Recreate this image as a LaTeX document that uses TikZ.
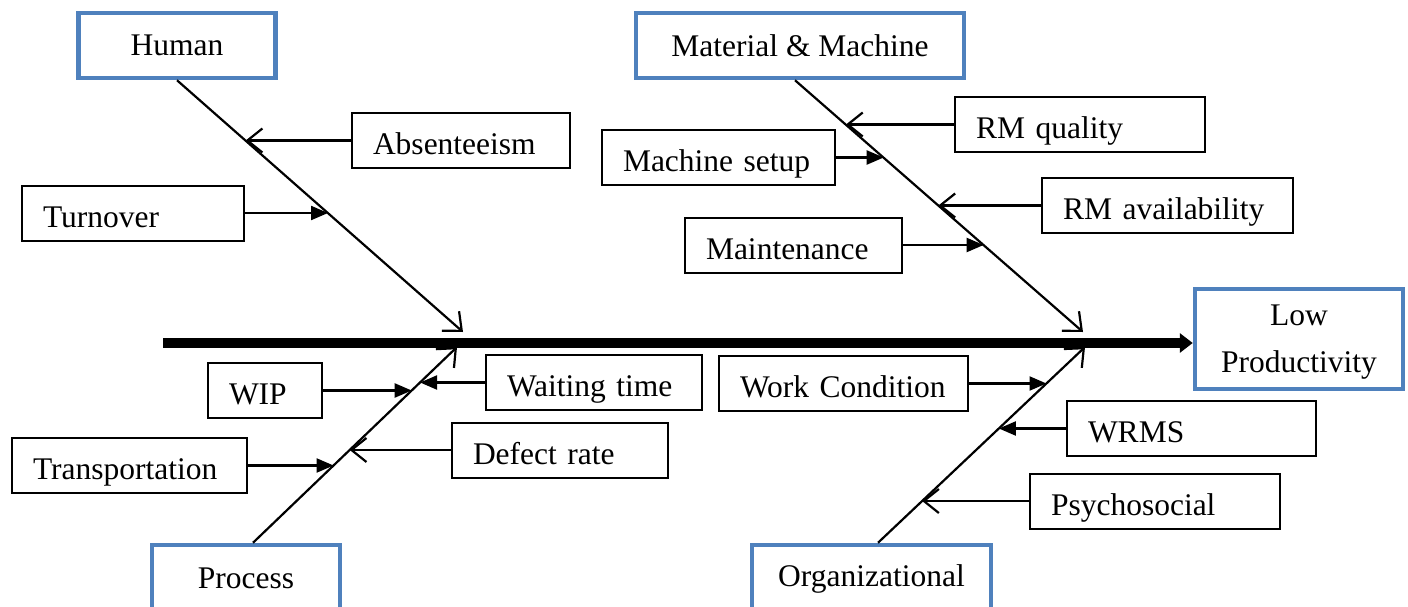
\documentclass[tikz,border=0pt]{standalone}
\usepackage{fontspec}
\setmainfont{Liberation Serif}
\usetikzlibrary{arrows.meta}
\definecolor{catblue}{RGB}{79,129,189}
\begin{document}
\begin{tikzpicture}[x=1pt,y=-1pt,
  every node/.style={font=\fontsize{31.5}{41}\selectfont, inner sep=0pt},
  category/.style={draw=catblue, line width=4.5pt, fill=white, align=center},
  cause/.style={draw=black, line width=2pt, minimum height=55pt, align=left,
                inner xsep=21pt, text width=#1, text height=28pt, text depth=0pt},
  bone/.style={line width=2.2pt, -{Straight Barb[length=15pt,width=26pt]}},
  inopen/.style={line width=2.2pt, -{Straight Barb[length=15pt,width=24pt]}},
  infill/.style={line width=2.2pt, -{Triangle[length=17pt,width=14pt]}},
  spine/.style={line width=10pt, -{Triangle[length=13pt,width=19pt]}}]

\useasboundingbox (0,0) rectangle (1408,607);

% category boxes and effect
\node[category, minimum width=197, minimum height=65] (human) at (177,45.5) {Human};
\node[category, minimum width=328, minimum height=65] (mm) at (800,45.5) {Material \& Machine};
\node[category, minimum width=208, minimum height=100, text depth=0pt] (lp) at (1299,339) {Low\\[6pt]Productivity};
\node[category, minimum width=188, minimum height=67] (proc) at (246,578.5) {Process};
\node[category, minimum width=239, minimum height=67] (org) at (871.5,578.5) {Organizational};

% ends of the bones and start of the spine
\coordinate (hEnd) at (463,332);
\coordinate (mEnd) at (1083,332);
\coordinate (pEnd) at (457,347);
\coordinate (oEnd) at (1085,347);
\coordinate (sStart) at (163,343);

% bones with the points where the causes join them
\draw[bone] (human.south) -- (hEnd)
  coordinate[pos=0.240] (h1) coordinate[pos=0.528] (h2);
\draw[bone] ([xshift=-5pt]mm.south) -- (mEnd)
  coordinate[pos=0.177] (m1) coordinate[pos=0.308] (m2)
  coordinate[pos=0.498] (m3) coordinate[pos=0.655] (m4);
\draw[bone] ([xshift=7pt]proc.north) -- (pEnd)
  coordinate[pos=0.778] (p1) coordinate[pos=0.819] (p2)
  coordinate[pos=0.395] (p3) coordinate[pos=0.474] (p4);
\draw[bone] ([xshift=6.5pt]org.north) -- (oEnd)
  coordinate[pos=0.814] (o1) coordinate[pos=0.584] (o2)
  coordinate[pos=0.213] (o3);

% spine
\draw[spine] (sStart) -- (sStart -| lp.west);

% causes
\node[cause=176] (absent) at (461,140.5) {Absenteeism};
\node[cause=180] (turn) at (133,213) {Turnover};
\node[cause=208] (rmq) at (1080,124.5) {RM quality};
\node[cause=191] (setup) at (718.5,157.5) {Machine setup};
\node[cause=209] (rma) at (1167.5,205.5) {RM availability};
\node[cause=175] (maint) at (793.5,245) {Maintenance};
\node[cause=72] (wip) at (265,390.5) {WIP};
\node[cause=174] (wait) at (594,382.5) {Waiting time};
\node[cause=193] (trans) at (129.5,465.5) {Transportation};
\node[cause=174] (defect) at (560,450) {Defect rate};
\node[cause=207] (work) at (843.5,383.5) {Work Condition};
\node[cause=207] (wrms) at (1191.5,428.5) {WRMS};
\node[cause=208] (psy) at (1155,501) {Psychosocial};

% cause arrows
\draw[inopen] (absent.west) -- (absent.west -| h1);
\draw[infill] (turn.east) -- (turn.east -| h2);
\draw[inopen] (rmq.west) -- (rmq.west -| m1);
\draw[infill] (setup.east) -- (setup.east -| m2);
\draw[inopen] (rma.west) -- (rma.west -| m3);
\draw[infill] (maint.east) -- (maint.east -| m4);
\draw[infill] (wip.east) -- (wip.east -| p1);
\draw[infill] (wait.west) -- (wait.west -| p2);
\draw[infill] (trans.east) -- (trans.east -| p3);
\draw[inopen] (defect.west) -- (defect.west -| p4);
\draw[infill] (work.east) -- (work.east -| o1);
\draw[infill] (wrms.west) -- (wrms.west -| o2);
\draw[inopen] (psy.west) -- (psy.west -| o3);
\end{tikzpicture}
\end{document}
